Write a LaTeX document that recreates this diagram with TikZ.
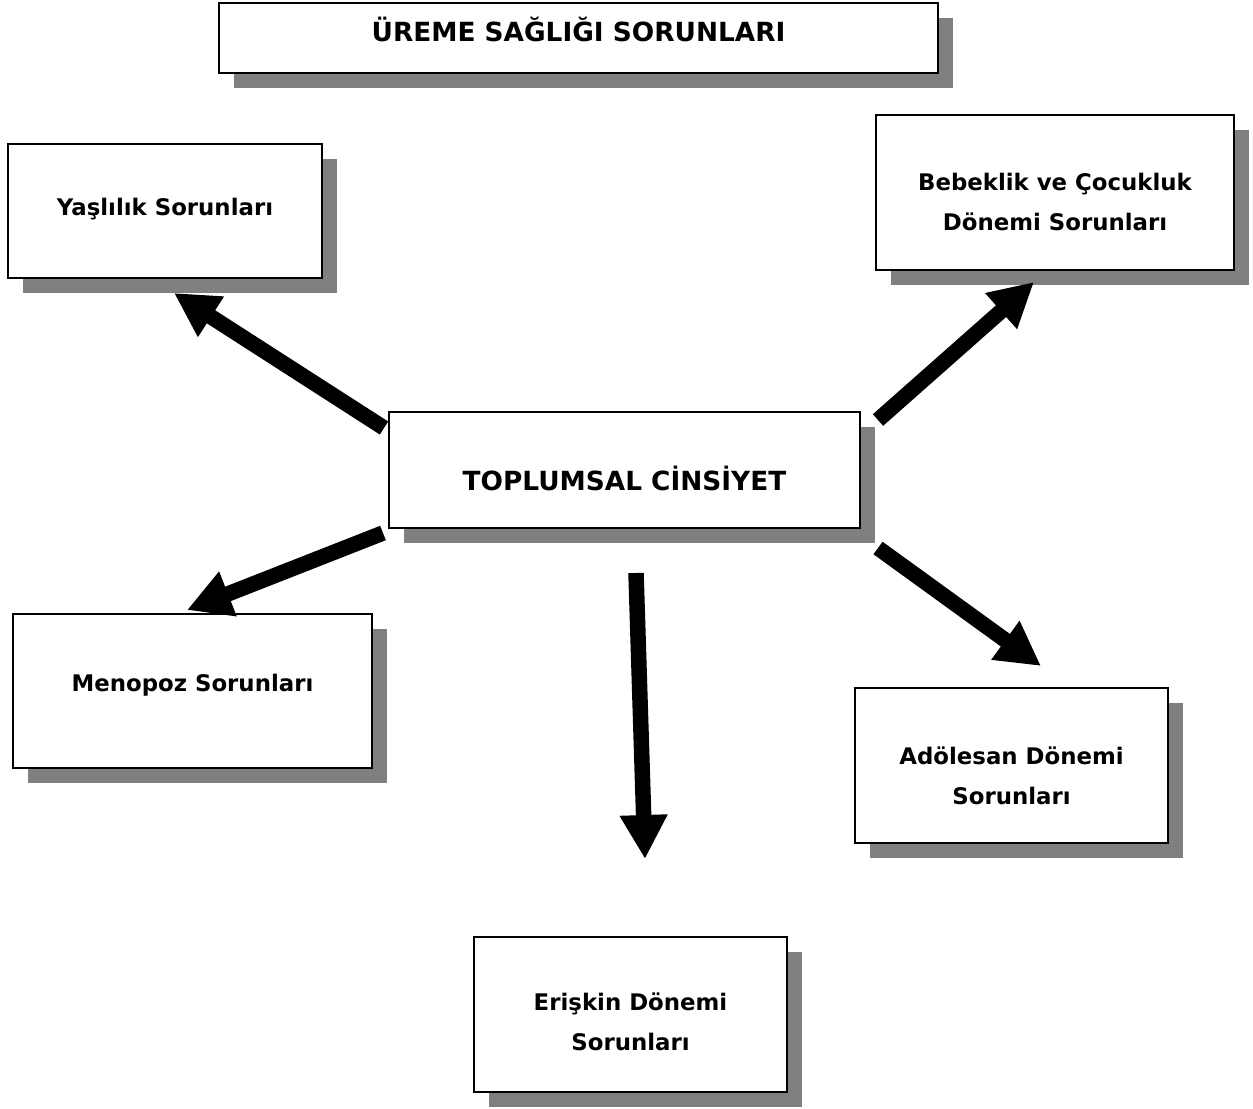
\documentclass[tikz,border=0pt]{standalone}
\usepackage{fontspec}
\setmainfont{DejaVu Sans}
\usepackage{xcolor}
\usepackage{tikz}
\usetikzlibrary{arrows.meta,shadows}
\definecolor{shade}{HTML}{808080}
\definecolor{ink}{HTML}{000000}
\tikzset{
  box/.style={draw=ink, fill=white, line width=0.7pt, align=center, inner sep=2pt,
    font=\bfseries\fontsize{13}{23}\selectfont,
    drop shadow={shadow xshift=0.3cm, shadow yshift=-0.3cm, fill=shade, opacity=1}},
  caps/.style={font=\bfseries\fontsize{15}{23}\selectfont},
  arr/.style={draw=ink, line width=0.31cm, -{Triangle[length=0.88cm, width=0.9cm]}}
}

\begin{document}
\begin{tikzpicture}[x=0.02cm, y=-0.02cm]
  \useasboundingbox (0,0) rectangle (1253,1108);
  % boxes
  \node[box, caps, minimum width=14.38cm, minimum height=1.4cm, text height=11pt, text depth=6.8pt] (title) at (578.5,38) {ÜREME SAĞLIĞI SORUNLARI};
  \node[box, minimum width=6.28cm, minimum height=2.68cm, text height=9pt, text depth=4.4pt] (yasli) at (165,211) {Yaşlılık Sorunları};
  \node[box, minimum width=7.16cm, minimum height=3.1cm, text height=50pt, text depth=6.3pt] (bebek) at (1055,192.5) {Bebeklik ve Çocukluk\\Dönemi Sorunları};
  \node[box, caps, minimum width=9.42cm, minimum height=2.32cm, text height=27pt, text depth=3.5pt] (cins) at (624.5,470) {TOPLUMSAL CİNSİYET};
  \node[box, minimum width=7.18cm, minimum height=3.08cm, text height=8pt, text depth=8pt] (meno) at (192.5,691) {Menopoz Sorunları};
  \node[box, minimum width=6.26cm, minimum height=3.1cm, text height=50.5pt, text depth=6pt] (adol) at (1011.5,765.5) {Adölesan Dönemi\\Sorunları};
  \node[box, minimum width=6.26cm, minimum height=3.1cm, text height=48pt, text depth=6.5pt] (eris) at (630.5,1014.5) {Erişkin Dönemi\\Sorunları};
  % arrow ends
  \coordinate (cins-yasli) at (384,428);
  \coordinate (yasli-in) at (174,293);
  \coordinate (cins-bebek) at (878,420);
  \coordinate (bebek-in) at (1034,282);
  \coordinate (cins-meno) at (383,533);
  \coordinate (meno-in) at (187,610);
  \coordinate (cins-eris) at (636,573);
  \coordinate (eris-in) at (645,859);
  \coordinate (cins-adol) at (878,548);
  \coordinate (adol-in) at (1041,666);
  % arrows
  \draw[arr] (cins-yasli) -- (yasli-in);
  \draw[arr] (cins-bebek) -- (bebek-in);
  \draw[arr] (cins-meno) -- (meno-in);
  \draw[arr] (cins-eris) -- (eris-in);
  \draw[arr] (cins-adol) -- (adol-in);
\end{tikzpicture}
\end{document}
